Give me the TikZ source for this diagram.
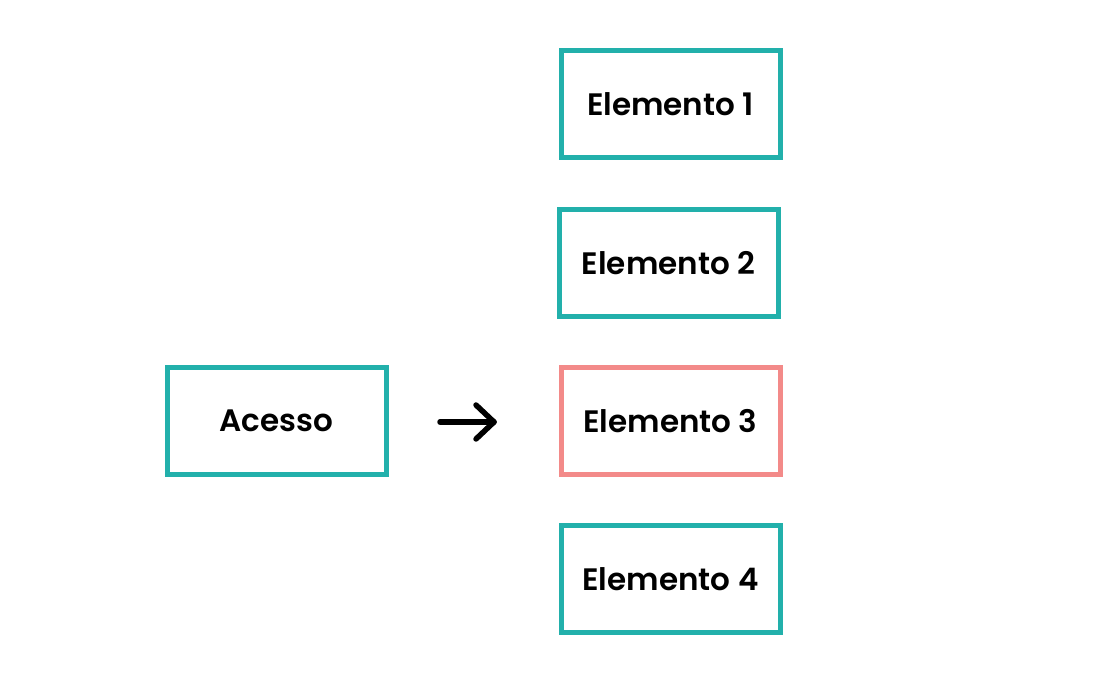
\documentclass[tikz,border=0pt]{standalone}
\usepackage{fontspec}
\setmainfont{Poppins SemiBold}
\usetikzlibrary{arrows.meta}
\definecolor{teal1}{HTML}{22B0AB}
\definecolor{salmon1}{HTML}{F38A89}
\tikzset{
  box/.style={draw=teal1, line width=5pt, minimum width=219pt, minimum height=107pt, inner sep=0pt, font=\fontsize{31}{35}\selectfont, text=black},
  hlbox/.style={box, draw=salmon1},
  arr/.style={line width=5.5pt, line cap=round, line join=round, black}
}
\begin{document}
\begin{tikzpicture}[x=1pt,y=-1pt]
\useasboundingbox (0,0) rectangle (1112,700);
\node[box] (e1) at (670.5,104) {Elemento 1};
\node[box] (e2) at (668.5,263) {Elemento 2};
\node[hlbox] (e3) at (670.5,421) {Elemento 3};
\node[box] (e4) at (670.5,579) {Elemento 4};
\node[box] (ac) at (276.5,421) {Acesso};
\coordinate (as) at (440,422);
\coordinate (at) at (494,422);
\coordinate (au) at (476,405);
\coordinate (ad) at (476,439);
\draw[arr] (as) -- (at);
\draw[arr] (au) -- (at) -- (ad);
\end{tikzpicture}
\end{document}
